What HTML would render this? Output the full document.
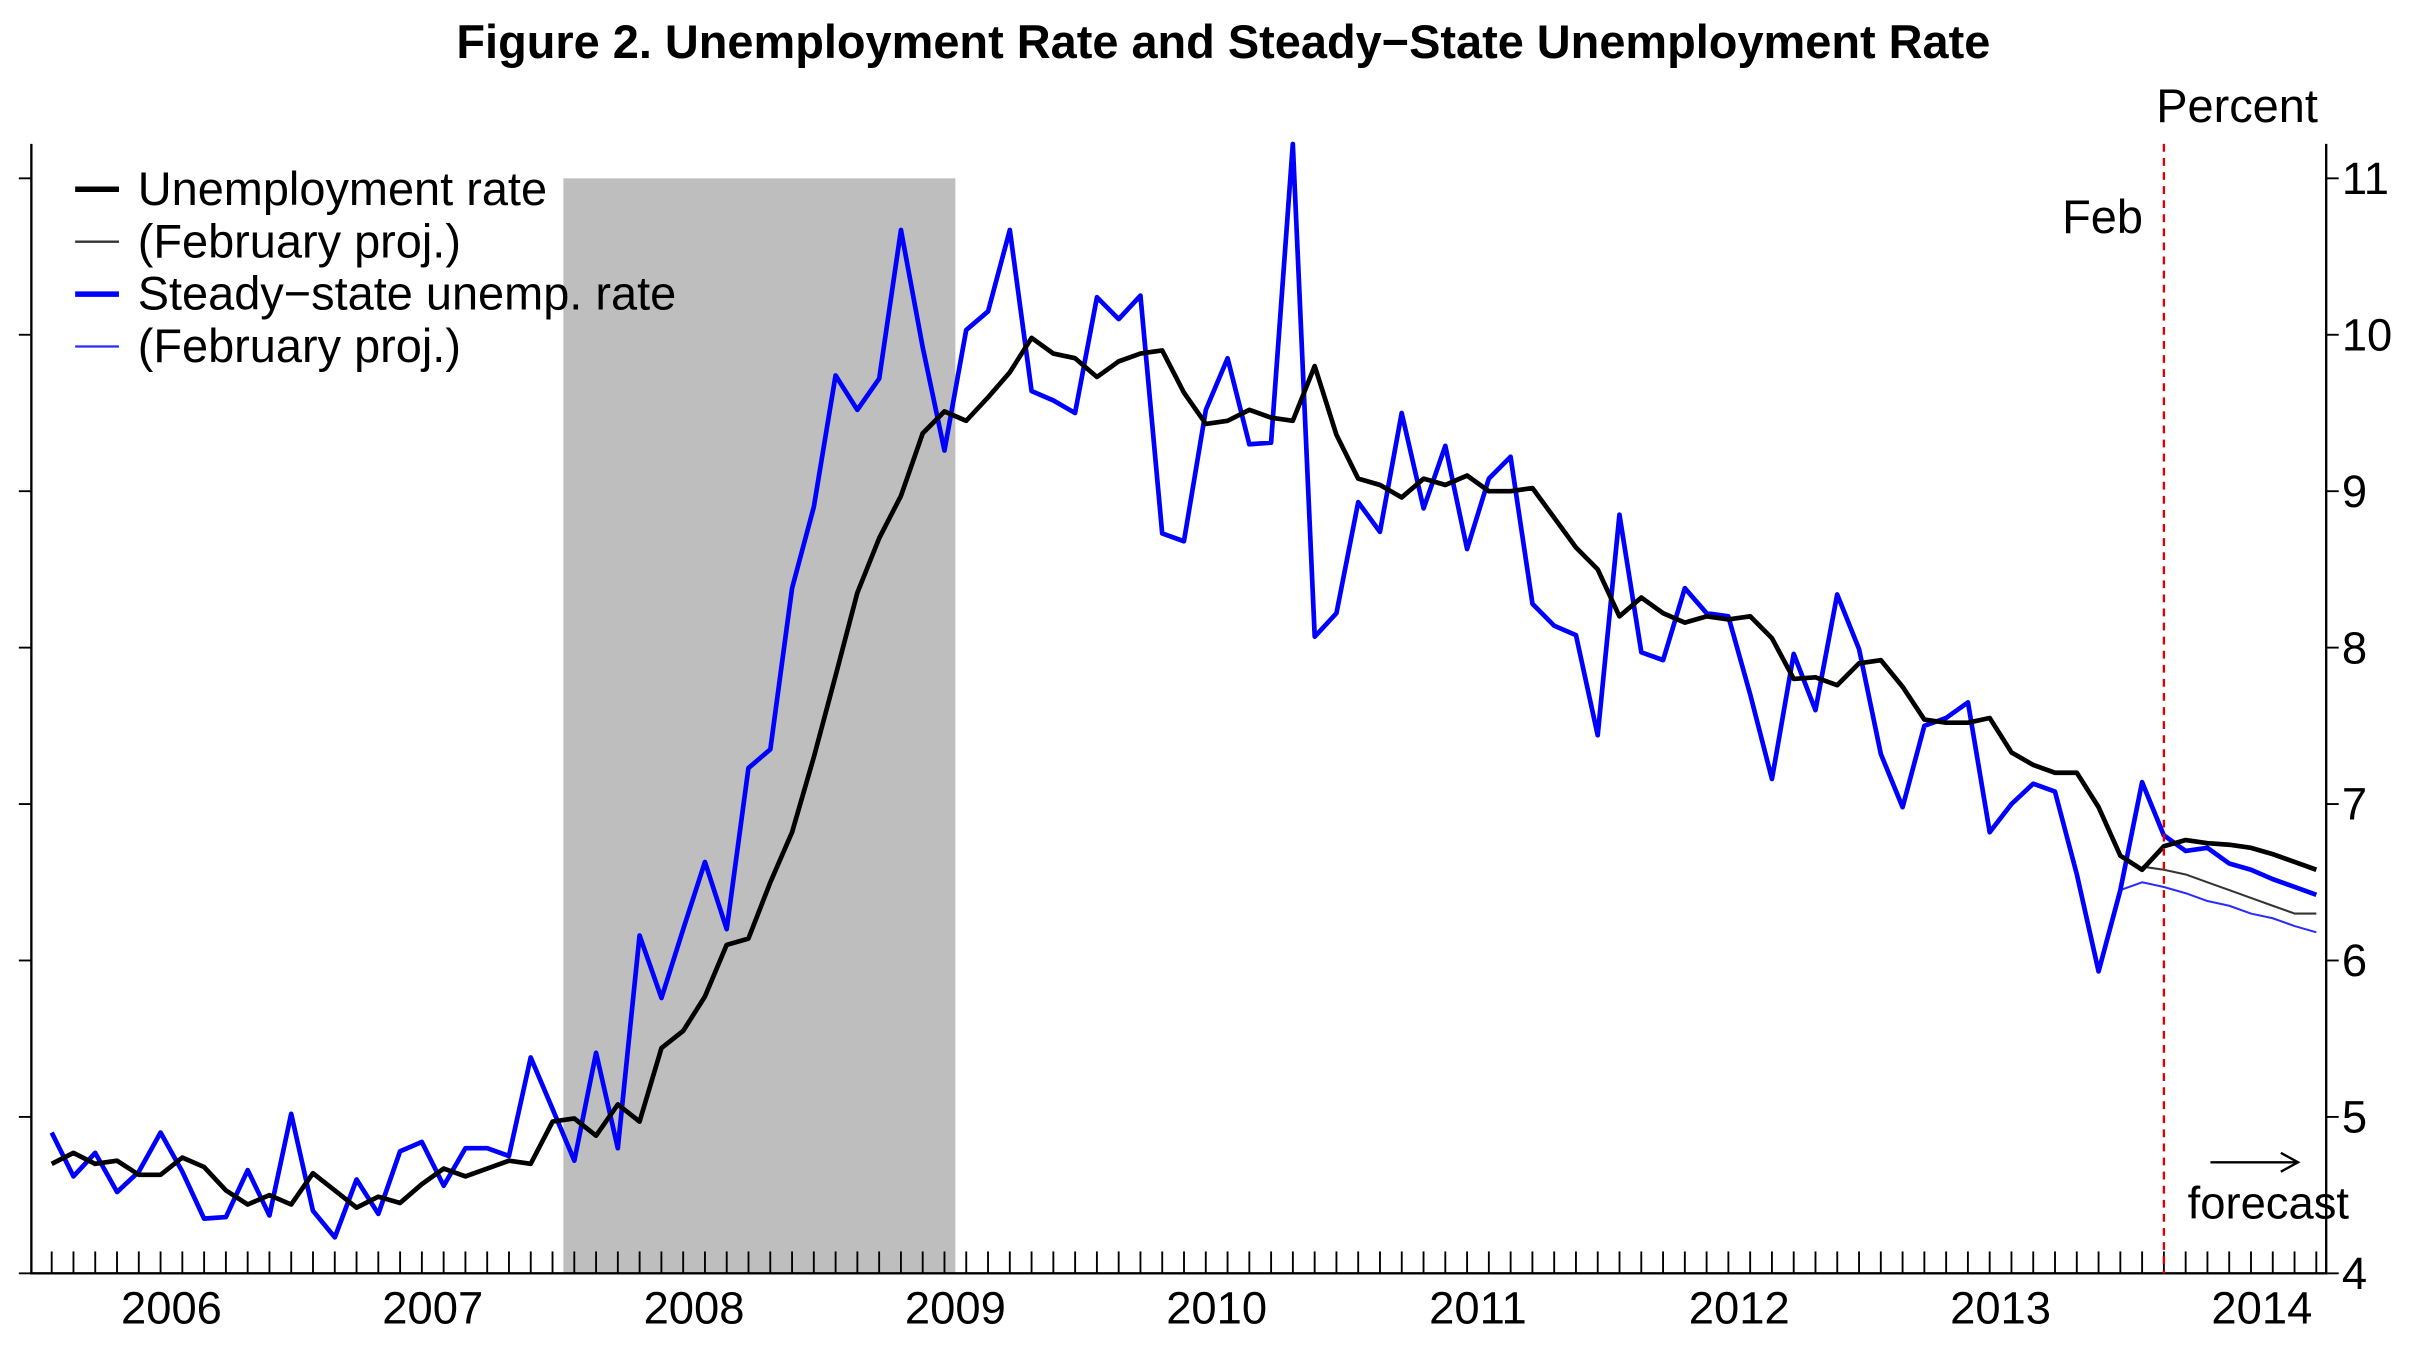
<!DOCTYPE html>
<html><head><meta charset="utf-8"><style>
html,body{margin:0;padding:0;background:#fff;}
svg{display:block;font-family:"Liberation Sans",Arial,sans-serif;}
</style></head><body>
<svg id="chart" width="2417" height="1350" viewBox="0 0 1545 863" xmlns="http://www.w3.org/2000/svg">
<rect x="0" y="0" width="1545" height="863" fill="#fff"/>
<text x="782" y="37" text-anchor="middle" font-size="30" font-weight="bold">Figure 2. Unemployment Rate and Steady−State Unemployment Rate</text>
<text x="1430" y="78" text-anchor="middle" font-size="30">Percent</text>
<g id="plot"></g>
</svg>
<script>
const yearLabels=["2006","2007","2008","2009","2010","2011","2012","2013","2014"];
const yTicks=[4,5,6,7,8,9,10,11];
const unempRate=[4.7,4.77,4.7,4.72,4.63,4.63,4.74,4.68,4.53,4.44,4.5,4.44,4.64,4.53,4.42,4.49,4.45,4.57,4.67,4.62,4.67,4.72,4.7,4.97,4.99,4.88,5.08,4.97,5.44,5.55,5.77,6.1,6.14,6.5,6.82,7.3,7.82,8.35,8.7,8.97,9.37,9.51,9.45,9.6,9.76,9.98,9.88,9.85,9.73,9.83,9.88,9.9,9.63,9.43,9.45,9.52,9.47,9.45,9.8,9.36,9.08,9.04,8.96,9.08,9.04,9.1,9.0,9.0,9.02,8.83,8.64,8.5,8.2,8.32,8.22,8.16,8.2,8.18,8.2,8.06,7.8,7.81,7.76,7.9,7.92,7.75,7.54,7.52,7.52,7.55,7.33,7.25,7.2,7.2,6.98,6.67,6.58,6.73,6.77,6.75,6.74,6.72,6.68,6.63,6.58];
const steadyRate=[4.9,4.62,4.77,4.52,4.65,4.9,4.65,4.35,4.36,4.66,4.37,5.02,4.4,4.23,4.6,4.38,4.78,4.84,4.56,4.8,4.8,4.75,5.38,5.05,4.72,5.41,4.8,6.16,5.76,6.2,6.63,6.2,7.23,7.35,8.38,8.9,9.74,9.52,9.72,10.67,9.92,9.26,10.03,10.15,10.67,9.64,9.58,9.5,10.24,10.1,10.25,8.73,8.68,9.52,9.85,9.3,9.31,11.22,8.07,8.22,8.93,8.74,9.5,8.89,9.29,8.63,9.08,9.22,8.28,8.14,8.08,7.44,8.85,7.97,7.92,8.38,8.22,8.2,7.7,7.16,7.96,7.6,8.34,7.99,7.32,6.98,7.5,7.55,7.65,6.82,7.0,7.13,7.08,6.55,5.93,6.45,7.14,6.8,6.7,6.72,6.62,6.58,6.52,6.47,6.42];
const unempFebStart=96;
const unempFeb=[6.6,6.58,6.55,6.5,6.45,6.4,6.35,6.3,6.3];
const steadyFebStart=95;
const steadyFeb=[6.45,6.5,6.47,6.43,6.38,6.35,6.3,6.27,6.22,6.18];
const recessionStart=23.5, recessionEnd=41.5, febMonth=97;

const X0=33, MW=13.92, L=20, R=1487, T=92, B=814;
const xs=m=>X0+m*MW;
const ys=v=>B-(v-4)*100;
const NS="http://www.w3.org/2000/svg";
const g=document.getElementById('plot');
function mk(tag,attrs,parent){const e=document.createElementNS(NS,tag);for(const k in attrs)e.setAttribute(k,attrs[k]);(parent||g).appendChild(e);return e;}

const rec=mk('rect',{x:xs(recessionStart),y:ys(11),width:xs(recessionEnd)-xs(recessionStart),height:B-ys(11),fill:'#bebebe'});



const ax=mk('path',{d:`M${L},${T}V${B}H${R}V${T}`,fill:'none',stroke:'#000','stroke-width':1.5});



yTicks.forEach(v=>{
  const t1=mk('line',{x1:L-8,x2:L,y1:ys(v),y2:ys(v),stroke:'#000','stroke-width':1.2});
  
  
  const t2=mk('line',{x1:R,x2:R+8,y1:ys(v),y2:ys(v),stroke:'#000','stroke-width':1.2});
  
  
  const tx=mk('text',{x:R+10,y:ys(v)+10,'font-size':29});
  tx.textContent=v;
  
  
});
for(let m=0;m<=104;m++){
  const t=mk('line',{x1:xs(m),x2:xs(m),y1:B-14,y2:B,stroke:'#000','stroke-width':1.2});
  
  
}
yearLabels.forEach((y,i)=>{
  const t=mk('text',{x:xs(i*12+5.5),y:846,'text-anchor':'middle','font-size':29});
  t.textContent=y;
  
  
});

function line(arr,start,color,w,name){
  const d=arr.map((v,i)=>(i?'L':'M')+xs(start+i).toFixed(1)+','+ys(v).toFixed(1)).join('');
  const p=mk('path',{d,fill:'none',stroke:color,'stroke-width':w,'stroke-linejoin':'round'});
  
  
}
line(unempFeb,unempFebStart,'#333',1.3,'unemployment-feb-proj-line');
line(steadyFeb,steadyFebStart,'#2a2aff',1.3,'steady-state-feb-proj-line');
line(steadyRate,0,'#0000ff',3,'steady-state-rate-line');
line(unempRate,0,'#000',3,'unemployment-rate-line');

const fl=mk('line',{x1:xs(febMonth),x2:xs(febMonth),y1:T,y2:B,stroke:'#e00000','stroke-width':1.5,'stroke-dasharray':'5,4'});


const ft=mk('text',{x:1344,y:149,'text-anchor':'middle','font-size':30});
ft.textContent='Feb';


const ar=mk('path',{d:'M1413,743H1468M1458,737L1469,743L1458,749',fill:'none',stroke:'#000','stroke-width':1.5});


const fc=mk('text',{x:1450,y:779,'text-anchor':'middle','font-size':29});
fc.textContent='forecast';



const legend=[["Unemployment rate","#000",3.5],["(February proj.)","#333",1.5],["Steady−state unemp. rate","#0000ff",3.5],["(February proj.)","#2a2aff",1.5]];
legend.forEach((e,i)=>{
  const y=121+i*33.5;
  const l=mk('line',{x1:48,x2:76,y1:y,y2:y,stroke:e[1],'stroke-width':e[2]});
  
  
  const t=mk('text',{x:88,y:y+10,'font-size':30});
  t.textContent=e[0];
  
  
});
</script>
</body></html>
